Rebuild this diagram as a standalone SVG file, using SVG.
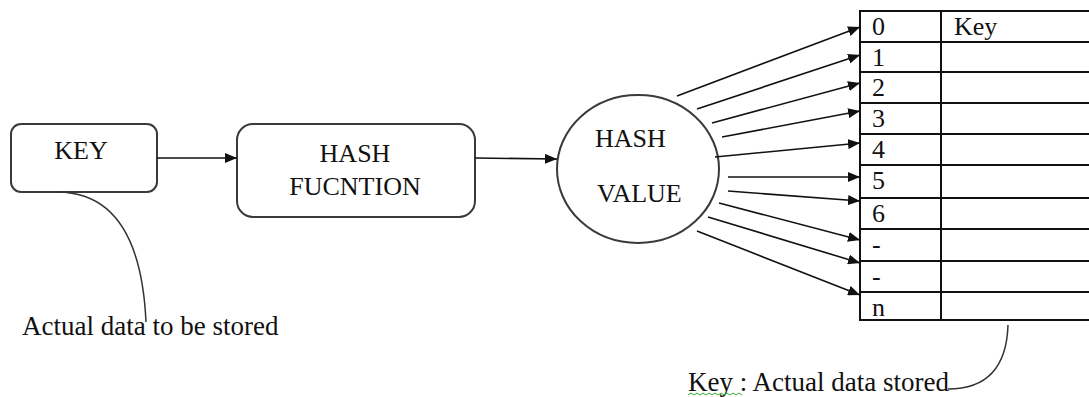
<svg xmlns="http://www.w3.org/2000/svg" width="1089" height="397" viewBox="0 0 1089 397">
<style>
text{font-family:"Liberation Serif","Times New Roman",serif;font-size:26px;fill:#111}
.cap{font-size:27px}
.box{fill:#fff;stroke:#3a3a3a;stroke-width:2}
.tl{stroke:#111;stroke-width:2;fill:none}
.arr{stroke:#111;stroke-width:1.6;fill:none;marker-end:url(#ah)}
.cur{stroke:#333;stroke-width:1.5;fill:none}
.mid{text-anchor:middle}
</style>
<defs>
<marker id="ah" markerUnits="userSpaceOnUse" markerWidth="12" markerHeight="10" refX="12" refY="5" orient="auto">
<path d="M0,0 L12,5 L0,10 Z" fill="#111"/>
</marker>
</defs>
<rect width="1089" height="397" fill="#fff"/>
<g id="key">
<rect class="box" x="11" y="124" width="146" height="68" rx="10"/>
<text class="mid" x="81" y="159">KEY</text>
</g>
<g id="hash-function">
<rect class="box" x="237" y="124" width="238" height="93" rx="16"/>
<text class="mid" x="355" y="162">HASH</text>
<text class="mid" x="355" y="195">FUCNTION</text>
</g>
<g id="hash-value">
<ellipse class="box" cx="638" cy="169" rx="81" ry="74" stroke-width="1.5"/>
<text x="595" y="147">HASH</text>
<text x="597" y="202">VALUE</text>
</g>
<g id="table">
<path class="tl" d="M860,11 V320 M941,11 V320 M859,11 H1089 M860,42 H1089 M860,72 H1089 M860,103 H1089 M860,134 H1089 M860,165 H1089 M860,198 H1089 M860,229 H1089 M860,261 H1089 M860,292 H1089 M859,320 H1089"/>
<text x="872" y="35">0</text>
<text x="954" y="35">Key</text>
<text x="872" y="66">1</text>
<text x="872" y="96">2</text>
<text x="872" y="127">3</text>
<text x="872" y="158">4</text>
<text x="872" y="189">5</text>
<text x="872" y="222">6</text>
<text x="872" y="253">-</text>
<text x="872" y="285">-</text>
<text x="872" y="316">n</text>
</g>
<g id="connectors">
<line class="arr" x1="157" y1="158" x2="237" y2="158"/>
<line class="arr" x1="475" y1="158" x2="557" y2="159"/>
<line class="arr" x1="677" y1="96" x2="860" y2="27"/>
<line class="arr" x1="697" y1="109" x2="860" y2="55"/>
<line class="arr" x1="712" y1="123" x2="860" y2="83"/>
<line class="arr" x1="722" y1="137" x2="860" y2="111"/>
<line class="arr" x1="715" y1="157" x2="860" y2="143"/>
<line class="arr" x1="728" y1="177" x2="860" y2="177"/>
<line class="arr" x1="728" y1="191" x2="860" y2="201"/>
<line class="arr" x1="719" y1="203" x2="860" y2="240"/>
<line class="arr" x1="708" y1="217" x2="860" y2="263"/>
<line class="arr" x1="697" y1="231" x2="860" y2="295"/>
</g>
<g id="captions">
<path class="cur" d="M58,192 Q140,193 146,322"/>
<text class="cap" x="22" y="335">Actual data to be stored</text>
<path class="cur" d="M1008,325 Q1006,389 948,389"/>
<text class="cap" x="688" y="391">Key : Actual data stored</text>
<path d="M688,395 l3,-2 l3,2 l3,-2 l3,2 l3,-2 l3,2 l3,-2 l3,2 l3,-2 l3,2 l3,-2 l3,2 l3,-2 l3,2 l3,-2 l3,2 l3,-2 l3,2" fill="none" stroke="#3a3" stroke-width="1"/>
</g>
</svg>
